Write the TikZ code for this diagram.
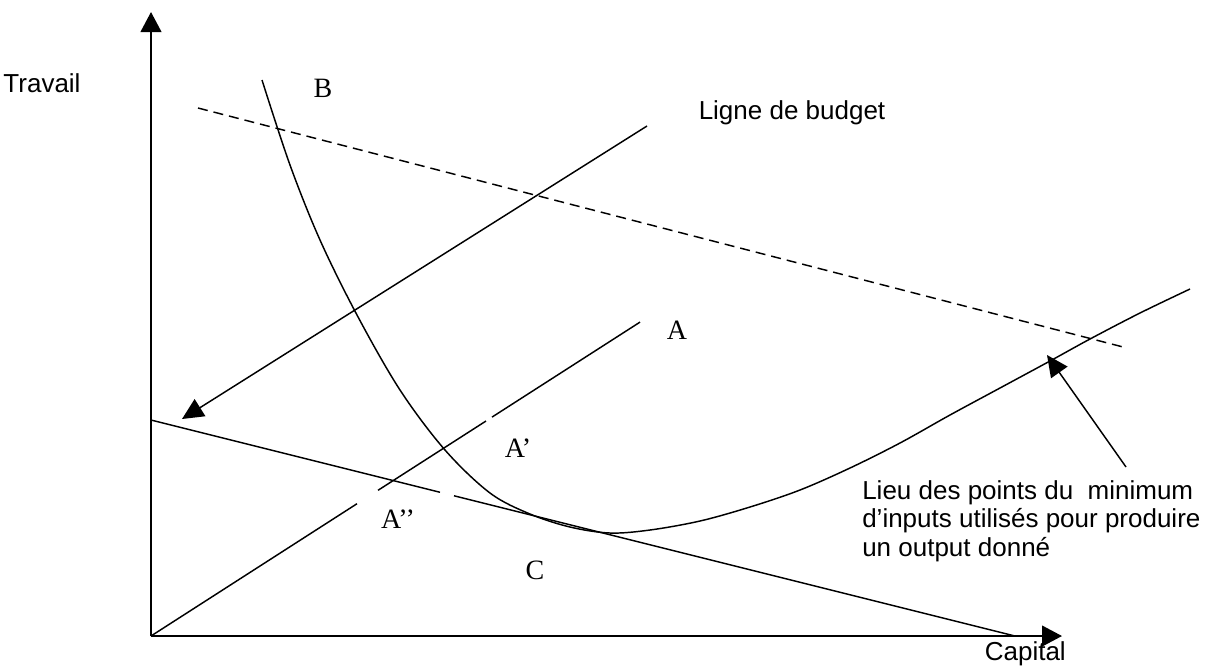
\documentclass[tikz,border=0pt]{standalone}
\usepackage{fontspec}
\setmainfont{Liberation Serif}
\setsansfont{Liberation Sans}
\usetikzlibrary{arrows.meta}
\begin{document}
\begin{tikzpicture}[x=0.75pt,y=-0.75pt,
  axisline/.style={line width=1.6pt,-{Triangle[length=15pt,width=15.5pt]}},
  thinline/.style={line width=1.1pt},
  bigarrow/.style={line width=1.1pt,-{Triangle[length=16pt,width=15pt]}},
  dashline/.style={line width=1.1pt,dash pattern=on 7.5pt off 4.5pt},
  serlabel/.style={font=\fontsize{21}{24}\selectfont\rmfamily,inner sep=0pt},
  sanslabel/.style={font=\fontsize{19.5}{21}\selectfont\sffamily,inner sep=0pt}]
\useasboundingbox (0,0) rectangle (1216,669);
% axes
\coordinate (O) at (151,636);
\coordinate (ytop) at (151,12);
\coordinate (xend) at (1062,636);
\draw[axisline] (O) -- (ytop);
\draw[axisline] (O) -- (xend);
% budget (lower) line with gap
\coordinate (b0) at (151,420);
\coordinate (b1) at (440,492.25);
\coordinate (b2) at (454,495.75);
\coordinate (b3) at (1015,636);
\draw[thinline] (b0) -- (b1);
\draw[thinline] (b2) -- (b3);
% ray from origin with gaps
\coordinate (r1) at (357,503.7);
\coordinate (r2) at (378,490.3);
\coordinate (r3) at (486,421);
\coordinate (r4) at (492,417.1);
\coordinate (r5) at (640,322.1);
\draw[thinline] (O) -- (r1);
\draw[thinline] (r2) -- (r3);
\draw[thinline] (r4) -- (r5);
% isoquant curve
\draw[thinline] plot[smooth,tension=0.55] coordinates {
 (262,80) (290,165) (320,240) (357,315) (400,390) (445,450) (490,493)
 (530,514) (570,527) (610,533) (650,530) (700,521) (750,507) (800,490)
 (850,468) (900,443) (950,415) (1000,388) (1050,361) (1090,339) (1140,313) (1190,289)};
% dashed line
\coordinate (d0) at (198,108);
\coordinate (d1) at (1127,348);
\draw[dashline] (d0) -- (d1);
% arrows
\coordinate (la0) at (647,126);
\coordinate (la1) at (182,419);
\draw[bigarrow] (la0) -- (la1);
\coordinate (ca0) at (1126,467);
\coordinate (ca1) at (1047,355);
\draw[bigarrow] (ca0) -- (ca1);
% labels
\node[sanslabel] (travail) at (42,83) {Travail};
\node[sanslabel,anchor=east] (capital) at (1066,654) {Capital};
\node[sanslabel] (ligne) at (792,113) {Ligne de budget};
\node[sanslabel,anchor=north west,align=left,font=\fontsize{19.5}{21.5}\selectfont\sffamily] (lieu) at (862,480)
 {Lieu des points du\ \ minimum\\d’inputs utilisés pour produire\\un output donné};
\node[serlabel] (B) at (323,88) {B};
\node[serlabel] (A) at (677,330) {A};
\node[serlabel] (Ap) at (518,448) {A’};
\node[serlabel] (App) at (398,519) {A’’};
\node[serlabel] (C) at (535,570) {C};
\end{tikzpicture}
\end{document}
